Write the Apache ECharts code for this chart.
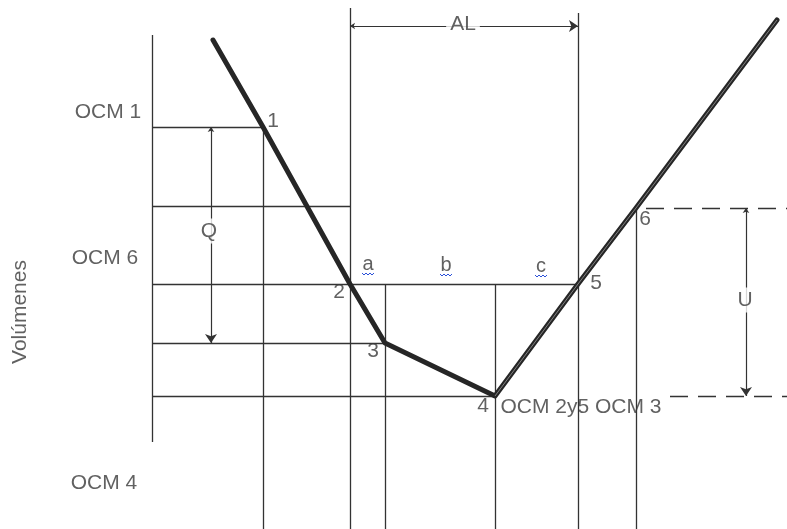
<!DOCTYPE html>
<html><head><meta charset="utf-8">
<script src="https://cdn.jsdelivr.net/npm/echarts@6/dist/echarts.min.js"></script>
<style>html,body{margin:0;padding:0;background:#fff}#c{width:787px;height:529px}</style>
</head><body><div id="c"></div>
<script>
// Diagram coordinates (x to the right, y downward)
const curveX = [213, 263, 350, 385, 495, 578, 636, 777];
const curveY = [40, 127, 284, 343, 396, 284, 208, 20];
// horizontal solid lines [x0, x1, y]
const hLines = [[152, 263, 127], [152, 350, 206], [152, 578, 284], [152, 385, 343], [152, 495, 396]];
// horizontal dashed lines [x0, x1, y]
const hDashed = [[670, 787, 396], [646, 787, 208]];
// vertical lines [x, y0, y1]
const vLines = [[152, 35, 442], [263, 127, 529], [350, 8, 529], [385, 284, 529], [495, 284, 529], [578, 13, 529], [636, 208, 529]];
// dimension arrows [x0, y0, x1, y1, label, labelX, labelY]
const dims = [[350, 26, 578, 26, 'AL', 463, 24], [211, 127, 211, 343, 'Q', 209, 231], [746, 208, 746, 396, 'U', 745, 300]];
// text labels [text, x, y]
const axisLabels = [['OCM 1', 108, 112], ['OCM 6', 105, 258], ['OCM 4', 104, 483]];
const pointLabels = [['1', 273, 121], ['2', 339, 292], ['3', 373, 351], ['4', 483, 406], ['5', 596, 283], ['6', 645, 219]];
const segLabels = [['a', 368, 264], ['b', 446, 265], ['c', 541, 266]];
const noteLabel = ['OCM 2y5 OCM 3', 581, 407];
const yTitle = ['Volúmenes', 20, 312];

const ink = '#333';
const txt = '#3a3a3a';

const segs = [];
hLines.forEach(h => segs.push({coords: [[h[0], h[2]], [h[1], h[2]]]}));
vLines.forEach(v => segs.push({coords: [[v[0], v[1]], [v[0], v[2]]]}));
const dashSegs = hDashed.map(h => ({coords: [[h[0], h[2]], [h[1], h[2]]]}));
const arrowSegs = dims.map(d => ({coords: [[d[0], d[1]], [d[2], d[3]]]}));
const curve = curveX.map((x, i) => [x, curveY[i]]);
const curveRight = curve.slice(4);
const squiggles = segLabels.map(s => {
  const pts = [];
  for (let k = 0; k <= 6; k++) pts.push([s[1] - 6 + k * 2, s[2] + 9 + (k % 2 ? 2 : 0)]);
  return {coords: pts};
});

function lbl(t, x, y, extra) {
  return Object.assign({name: t, value: [x, y]}, extra ? {label: extra} : {});
}
const labelData = [];
axisLabels.forEach(a => labelData.push(lbl(a[0], a[1], a[2])));
pointLabels.forEach(a => labelData.push(lbl(a[0], a[1], a[2])));
segLabels.forEach(a => labelData.push(lbl(a[0], a[1], a[2], {fontSize: 20})));
labelData.push(lbl(noteLabel[0], noteLabel[1], noteLabel[2]));
labelData.push(lbl(yTitle[0], yTitle[1], yTitle[2], {rotate: 90}));
dims.forEach(d => labelData.push(lbl(d[4], d[5], d[6], {backgroundColor: '#fff', padding: [2, 4, 2, 4]})));

const chart = echarts.init(document.getElementById('c'));
chart.setOption({
  animation: false,
  grid: {left: 0, right: 0, top: 0, bottom: 0},
  xAxis: {type: 'value', min: 0, max: 787, show: false},
  yAxis: {type: 'value', min: 0, max: 529, inverse: true, show: false},
  series: [
    {type: 'lines', coordinateSystem: 'cartesian2d', data: segs, silent: true,
     lineStyle: {color: ink, width: 1.3, opacity: 1}},
    {type: 'lines', coordinateSystem: 'cartesian2d', data: dashSegs, silent: true,
     lineStyle: {color: ink, width: 1.3, type: [18, 10], opacity: 1}},
    {type: 'lines', coordinateSystem: 'cartesian2d', data: arrowSegs, silent: true,
     symbol: ['arrow', 'arrow'], symbolSize: [5, 9],
     lineStyle: {color: ink, width: 1.2, opacity: 1}},
    {type: 'lines', coordinateSystem: 'cartesian2d', polyline: true, data: squiggles, silent: true,
     lineStyle: {color: '#2a4fd8', width: 1, opacity: 1}},
    {type: 'line', data: curve, symbol: 'none', silent: true,
     lineStyle: {color: '#262626', width: 5, cap: 'round', join: 'round'}},
    {type: 'line', data: curveRight, symbol: 'none', silent: true,
     lineStyle: {color: '#9a9a9a', width: 0.8, cap: 'butt'}},
    {type: 'scatter', data: labelData, symbolSize: 1, silent: true,
     itemStyle: {color: 'rgba(0,0,0,0)'},
     label: {show: true, position: 'inside', formatter: '{b}', color: txt,
       fontFamily: 'Liberation Sans, Arial, sans-serif', fontSize: 21,
       align: 'center', verticalAlign: 'middle'}}
  ]
});
</script></body></html>
